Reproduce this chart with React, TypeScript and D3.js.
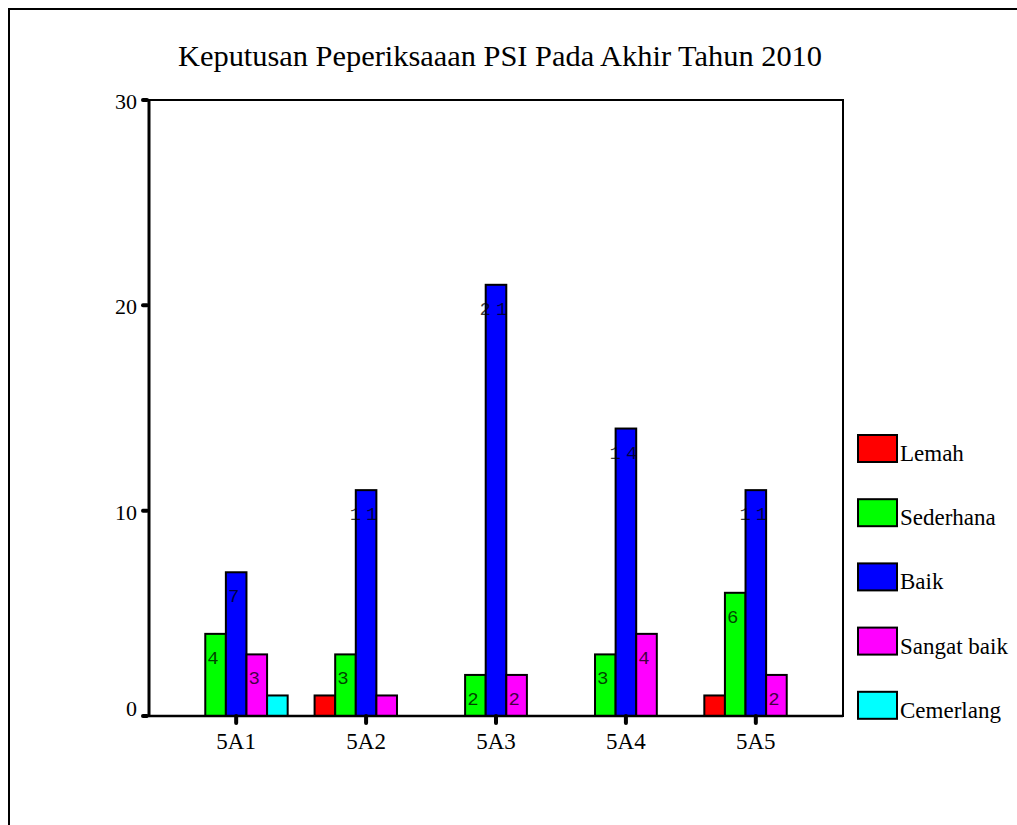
import React from "react";
import * as d3 from "d3";

const categories = ["5A1", "5A2", "5A3", "5A4", "5A5"];
const seriesNames = ["Lemah", "Sederhana", "Baik", "Sangat baik", "Cemerlang"];
const seriesColors = ["#FF0000", "#00FF00", "#0000FF", "#FF00FF", "#00FFFF"];
const lemah = [0, 1, 0, 0, 1];
const sederhana = [4, 3, 2, 3, 6];
const baik = [7, 11, 21, 14, 11];
const sangatBaik = [3, 1, 2, 4, 2];
const cemerlang = [1, 0, 0, 0, 0];
const yTicks = [0, 10, 20, 30];
const title = "Keputusan Peperiksaaan PSI Pada Akhir Tahun 2010";

const seriesValues = [lemah, sederhana, baik, sangatBaik, cemerlang];

const serif: React.CSSProperties = { fontFamily: "Liberation Serif" };
const mono: React.CSSProperties = { fontFamily: "Liberation Mono" };

export default function App() {
  const left = 149, right = 843, top = 100, bottom = 716;
  const y = d3.scaleLinear().domain([0, 30]).range([bottom, top]);
  const x = d3.scalePoint<string>().domain(categories).range([left, right]).padding(0.671);
  const inner = d3.scaleBand<string>().domain(seriesNames).range([-51.5, 51.5]).paddingInner(0);
  const bw = inner.bandwidth();

  return (
    <svg width={1017} height={825} style={{ position: "absolute", left: 0, top: 0, display: "block" }}>
      <rect x={0} y={0} width={1017} height={825} fill="#fff" />
      <rect x={9} y={9} width={1200} height={1000} fill="none" stroke="#000" strokeWidth={2} />
      <text x={500} y={66} textAnchor="middle" style={serif} fontSize={30} textLength={644} lengthAdjust="spacingAndGlyphs" fill="#000">{title}</text>

      {/* plot frame */}
      <rect x={left} y={top} width={right - left} height={bottom - top} fill="none" stroke="#000" strokeWidth={2} />
      <line x1={left} x2={left} y1={top - 1} y2={bottom + 1} stroke="#000" strokeWidth={3} />

      {/* y ticks */}
      {yTicks.map((t) => (
        <g key={t}>
          <line x1={143} x2={147} y1={y(t)} y2={y(t)} stroke="#000" strokeWidth={4} strokeLinecap="round" />
          <text x={137} y={y(t) + (t === 0 ? 0 : 9)} textAnchor="end" style={serif} fontSize={22} fill="#000">{t}</text>
        </g>
      ))}

      {/* bars */}
      {categories.map((c, ci) => (
        <g key={c}>
          {seriesNames.map((s, si) => {
            const v = seriesValues[si][ci];
            if (!v) return null;
            const bx = (x(c) as number) + (inner(s) as number);
            const by = y(v);
            return (
              <g key={s}>
                <rect x={bx} y={by} width={bw} height={bottom - by} fill={seriesColors[si]} stroke="#000" strokeWidth={2} />
                {v >= 2 && (
                  <text x={bx + bw / 2} y={by + 30} textAnchor="middle" style={mono} fontSize={19} letterSpacing={5} fill="#000" fillOpacity={0.75}>{v}</text>
                )}
              </g>
            );
          })}
        </g>
      ))}

      {/* x axis ticks and labels */}
      <line x1={left} x2={right} y1={bottom} y2={bottom} stroke="#000" strokeWidth={2.5} />
      {categories.map((c) => (
        <g key={c}>
          <line x1={x(c)} x2={x(c)} y1={bottom} y2={723} stroke="#000" strokeWidth={4} strokeLinecap="round" />
          <text x={x(c)} y={749} textAnchor="middle" style={serif} fontSize={23} fill="#000">{c}</text>
        </g>
      ))}

      {/* legend */}
      {seriesNames.map((s, i) => (
        <g key={s}>
          <rect x={858} y={435 + 64.2 * i} width={39} height={27} fill={seriesColors[i]} stroke="#000" strokeWidth={2} />
          <text x={900} y={461 + 64.2 * i} style={serif} fontSize={23} fill="#000">{s}</text>
        </g>
      ))}
    </svg>
  );
}
